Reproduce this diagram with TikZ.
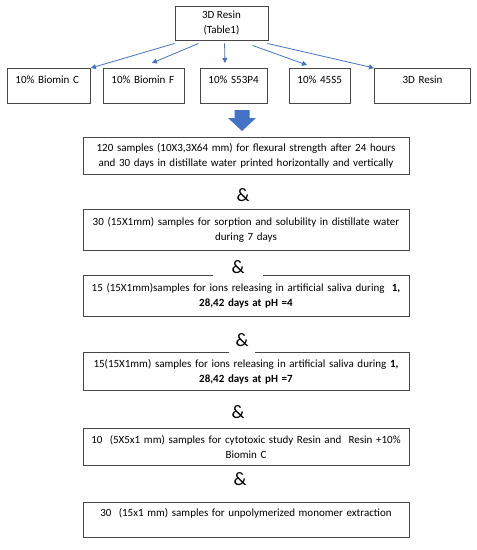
\documentclass[tikz,border=0pt]{standalone}
\usepackage{fontspec}
\setmainfont{Carlito}
\usetikzlibrary{calc, arrows.meta}
\definecolor{boxblue}{HTML}{4472C4}
\definecolor{boxgray}{HTML}{474747}

\begin{document}
\begin{tikzpicture}[x=1pt, y=-1pt,
    every node/.style={font=\fontsize{11}{15}\selectfont},
    smallbox/.style={draw=boxgray, line width=0.9pt, anchor=north west, inner xsep=8pt, inner ysep=3pt, text height=12pt, text depth=17pt, align=left},
    bigbox/.style={draw=boxgray, line width=0.9pt, anchor=north, text width=318pt, inner xsep=4pt, align=center},
    amp/.style={font=\fontsize{19}{19}\selectfont, inner sep=0pt},
    link/.style={boxblue, line width=0.8pt, -{Triangle[length=5pt,width=5pt]}}]
    \useasboundingbox (0,0) rectangle (477,550);

    % resin and the five groups
    \node[draw=boxgray, line width=0.9pt, minimum width=93pt, minimum height=34pt, align=center] (resin) at (221.5,23) {3D Resin\\(Table1)};

    \node[smallbox, text width=67pt] (biominc) at (7,68) {10\% Biomin C};
    \node[smallbox, text width=65pt] (biominf) at (103,68) {10\% Biomin F};
    \node[smallbox, text width=51pt] (s53p4) at (200,68) {10\% S53P4};
    \node[smallbox, text width=45pt] (bg) at (289,68) {10\% 45S5};
    \node[smallbox, text width=80pt, align=center] (plain) at (374,68) {3D Resin};

    \draw[link] ($(resin.south west)+(0,3)$) -- (biominc.north east);
    \draw[link] ($(resin.south west)+(24,3)$) -- ($(biominf.north west)+(49,-5)$);
    \draw[link] ($(resin.south west)+(50,3)$) -- ($(s53p4.north west)+(25,-5)$);
    \draw[link] ($(resin.south west)+(78,5)$) -- ($(bg.north west)+(18,-3)$);
    \draw[link] ($(resin.south east)+(-1,3)$) -- (plain.north west);

    % block arrow
    \coordinate (down) at (242,110);
    \fill[boxblue] ($(down)+(-7.5,0)$) -- ++(15,0) -- ++(0,8) -- ++(6.5,0) -- ($(down)+(0,21)$)
                    -- ($(down)+(-14,8)$) -- ++(6.5,0) -- cycle;

    % tests
    \node[bigbox, minimum height=37pt] (flex) at (246,137) {120 samples (10X3,3X64 mm) for flexural strength after 24 hours\\and 30 days in distillate water printed horizontally and vertically};
    \node[bigbox, minimum height=41pt] (sorp) at (246,209) {30 (15X1mm) samples for sorption and solubility in distillate water\\during 7 days};
    \node[bigbox, minimum height=41pt] (ph4) at (246,275) {15 (15X1mm)samples for ions releasing in artificial saliva during\ \ \textbf{1,}\\\textbf{28,42 days at pH =4}};
    \node[bigbox, minimum height=38pt] (ph7) at (246,352) {15(15X1mm) samples for ions releasing in artificial saliva during \textbf{1,}\\\textbf{28,42 days at pH =7}};
    \node[bigbox, minimum height=37pt] (cyto) at (246,428) {10\ \ (5X5x1 mm) samples for cytotoxic study Resin and\ \ Resin +10\%\\Biomin C};
    \node[bigbox, minimum height=35pt] (mono) at (246,502) {30\ \ (15x1 mm) samples for unpolymerized monomer extraction\\~};

    \node[amp] (and1) at (243,195) {\&};
    \node[amp, fill=white, minimum width=50pt, minimum height=17pt] (and2) at (238,267) {\&};
    \node[amp, fill=white, minimum width=26pt, minimum height=26pt] (and3) at (242,340) {\&};
    \node[amp] (and4) at (238,412) {\&};
    \node[amp] (and5) at (240,479) {\&};
\end{tikzpicture}
\end{document}
